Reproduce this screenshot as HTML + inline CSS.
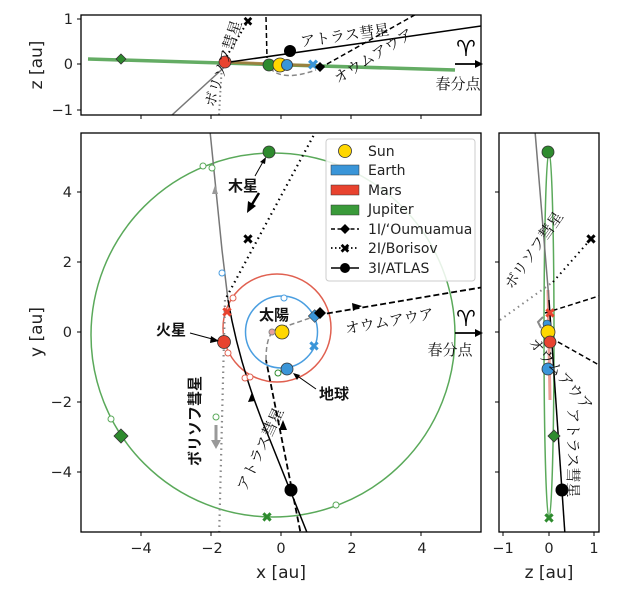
<!DOCTYPE html>
<html><head><meta charset="utf-8"><style>
html,body{margin:0;padding:0;background:#fff;overflow:hidden;width:621px;height:596px;}
svg{display:block;}
.t{font-family:"DejaVu Sans","Liberation Sans",sans-serif;font-size:14.5px;fill:#222;}
.al{font-family:"DejaVu Sans","Liberation Sans",sans-serif;font-size:17px;fill:#222;}
.j{font-family:"Liberation Serif","Noto Serif CJK SC","Noto Sans CJK JP",serif;font-size:15px;fill:#111;}
.jb{font-family:"Liberation Sans","Noto Sans CJK JP",sans-serif;font-size:15px;font-weight:bold;fill:#111;}
.lg{font-family:"DejaVu Sans","Liberation Sans",sans-serif;font-size:14px;fill:#222;}
.ar{font-family:"DejaVu Sans",sans-serif;font-size:22px;fill:#000;}
</style></head><body>
<svg width="621" height="596" viewBox="0 0 621 596" xmlns="http://www.w3.org/2000/svg">
<defs>
<clipPath id="cm"><rect x="81" y="133" width="400" height="399"/></clipPath>
<clipPath id="ct"><rect x="81" y="15" width="400" height="100"/></clipPath>
<clipPath id="cr"><rect x="499" y="133" width="100" height="399"/></clipPath>
</defs>

<!-- ============ TOP PANEL ============ -->
<g clip-path="url(#ct)">
<line x1="88" y1="59" x2="455" y2="70" stroke="#4a9e4a" stroke-width="3.5" opacity="0.85"/>
<line x1="225" y1="62" x2="320" y2="66" stroke="#b07030" stroke-width="3" opacity="0.7"/>
<line x1="172" y1="115" x2="230" y2="62" stroke="#777" stroke-width="1.5"/>
<line x1="230" y1="62" x2="481" y2="26" stroke="#000" stroke-width="1.5"/>
<line x1="222" y1="64" x2="248" y2="21" stroke="#000" stroke-width="2" stroke-dasharray="1.5,3"/>
<line x1="222" y1="64" x2="219" y2="115" stroke="#888" stroke-width="2" stroke-dasharray="1.5,3"/>
<line x1="266" y1="17" x2="267" y2="58" stroke="#000" stroke-width="1.5" stroke-dasharray="5,3"/>
<line x1="320" y1="68" x2="420" y2="12" stroke="#000" stroke-width="1.5" stroke-dasharray="5,3"/>
<path d="M270,68 Q282,82 316,70" fill="none" stroke="#888" stroke-width="1.5" stroke-dasharray="5,3"/>
<circle cx="225" cy="62" r="6" fill="#e8432f" stroke="#333" stroke-width="0.8"/>
<polygon points="121,54 126,59 121,64 116,59" fill="#2e8b2e" stroke="#333" stroke-width="0.8"/>
<circle cx="269" cy="65" r="6" fill="#2e8b2e" stroke="#333" stroke-width="0.8"/>
<circle cx="280" cy="65" r="7" fill="#ffd700" stroke="#333" stroke-width="0.8"/>
<circle cx="287" cy="65" r="5.5" fill="#3a95d8" stroke="#333" stroke-width="0.8"/>
<text x="313" y="70" text-anchor="middle" font-size="15" font-weight="bold" fill="#3a95d8" font-family="DejaVu Sans">✖</text>
<polygon points="320,62 325,67 320,72 315,67" fill="#000"/>
<circle cx="290" cy="51" r="6" fill="#000"/>
<text x="248" y="26" text-anchor="middle" font-size="13" font-weight="bold" fill="#000" font-family="DejaVu Sans">✖</text>
</g>
<rect x="81" y="15" width="400" height="100" fill="none" stroke="#000" stroke-width="1.3"/>
<text class="j" x="300" y="42" transform="rotate(-8 335 36)">アトラス彗星</text>
<text class="j" x="0" y="0" transform="translate(214,108) rotate(-72)">ボリソフ彗星</text>
<text class="j" x="0" y="0" transform="translate(338,84) rotate(-32)">オウムアウア</text>
<text class="ar" x="466" y="56" text-anchor="middle">♈&#xFE0E;</text>
<line x1="455" y1="64" x2="476" y2="64" stroke="#000" stroke-width="1.8"/>
<polygon points="483,64 475,60 475,68" fill="#000"/>
<text class="j" x="458" y="89" text-anchor="middle" font-size="13">春分点</text>
<g class="t" text-anchor="end">
<text x="73" y="24">1</text><text x="73" y="69">0</text><text x="73" y="115">−1</text>
</g>
<g stroke="#000"><line x1="77" y1="19" x2="81" y2="19"/><line x1="77" y1="64" x2="81" y2="64"/><line x1="77" y1="110" x2="81" y2="110"/>
<line x1="141" y1="115" x2="141" y2="119"/><line x1="211" y1="115" x2="211" y2="119"/><line x1="281" y1="115" x2="281" y2="119"/><line x1="351" y1="115" x2="351" y2="119"/><line x1="421" y1="115" x2="421" y2="119"/></g>
<text class="al" transform="translate(42,65) rotate(-90)" text-anchor="middle">z [au]</text>

<!-- ============ MAIN PANEL ============ -->
<g clip-path="url(#cm)">
<circle cx="273" cy="335" r="182" fill="none" stroke="#5aa95a" stroke-width="1.5"/>
<circle cx="277" cy="328" r="54" fill="none" stroke="#e06050" stroke-width="1.5"/>
<circle cx="281.5" cy="332" r="36" fill="none" stroke="#4a9ee0" stroke-width="1.5"/>
<!-- ATLAS -->
<path d="M210,131 L222,250 L228,300" fill="none" stroke="#777" stroke-width="1.5"/>
<path d="M228,300 Q240,370 270,440 L310,540" fill="none" stroke="#000" stroke-width="1.5"/>
<polygon points="215,185 212,194 218,194" fill="#999"/>
<polygon points="252,392 248,402 255,401" fill="#000"/>
<circle cx="291" cy="490" r="6.5" fill="#000"/>
<!-- Oumuamua -->
<path d="M302,540 L266,360" fill="none" stroke="#000" stroke-width="1.8" stroke-dasharray="6,3"/>
<path d="M266,360 Q266,335 275,330 L316,316" fill="none" stroke="#888" stroke-width="1.5" stroke-dasharray="5,3"/>
<line x1="318" y1="315" x2="484" y2="287" stroke="#000" stroke-width="1.8" stroke-dasharray="6,3"/>
<polygon points="362,306 352,303 353,311" fill="#000"/>
<polygon points="283,420 279,430 287,430" fill="#000"/>
<!-- Borisov -->
<line x1="316" y1="131" x2="225" y2="300" stroke="#000" stroke-width="2.2" stroke-dasharray="1.5,4"/>
<line x1="225" y1="300" x2="219" y2="540" stroke="#888" stroke-width="2.2" stroke-dasharray="1.5,4"/>
<line x1="259" y1="193" x2="251" y2="206" stroke="#000" stroke-width="2.5"/>
<polygon points="247,213 248,201 256,206" fill="#000"/>
<line x1="216" y1="425" x2="216" y2="440" stroke="#999" stroke-width="3"/>
<polygon points="211,440 221,440 216,449" fill="#999"/>
<text x="248" y="244" text-anchor="middle" font-size="14" font-weight="bold" fill="#000" font-family="DejaVu Sans">✖</text>
<!-- markers -->
<circle cx="269" cy="152" r="6" fill="#2e8b2e" stroke="#333" stroke-width="0.8"/>
<polygon points="121,429 128,436 121,443 114,436" fill="#2e8b2e" stroke="#333" stroke-width="0.8"/>
<text x="267" y="522" text-anchor="middle" font-size="14" font-weight="bold" fill="#2e8b2e" font-family="DejaVu Sans">✖</text>
<circle cx="203" cy="166" r="3" fill="#fff" stroke="#5aa95a"/><circle cx="212" cy="168" r="3" fill="#fff" stroke="#5aa95a"/>
<circle cx="222" cy="273" r="3" fill="#fff" stroke="#4a9ee0"/>
<circle cx="233" cy="298" r="3" fill="#fff" stroke="#e06050"/>
<circle cx="278" cy="373" r="3" fill="#fff" stroke="#2e8b2e"/>
<circle cx="245" cy="378" r="3" fill="#fff" stroke="#e06050"/><circle cx="250" cy="377" r="3" fill="#fff" stroke="#e06050"/>
<circle cx="111" cy="419" r="3" fill="#fff" stroke="#5aa95a"/>
<circle cx="336" cy="505" r="3" fill="#fff" stroke="#5aa95a"/>
<circle cx="284" cy="298" r="3" fill="#fff" stroke="#4a9ee0"/>
<circle cx="228" cy="353" r="3" fill="#fff" stroke="#e06050"/>
<circle cx="216" cy="417" r="3" fill="#fff" stroke="#5aa95a"/>
<circle cx="282" cy="332" r="7" fill="#ffd700" stroke="#333" stroke-width="0.8"/>
<circle cx="272" cy="332" r="3" fill="#e8a0a0" stroke="#888"/>
<circle cx="287" cy="369" r="6" fill="#3a95d8" stroke="#333" stroke-width="0.8"/>
<circle cx="224" cy="342" r="6.5" fill="#e8432f" stroke="#333" stroke-width="0.8"/>
<rect x="310" y="311" width="9" height="9" fill="#3a95d8" stroke="#333" stroke-width="0.6" transform="rotate(45 314 316)"/>
<polygon points="320,307 326,313 320,319 314,313" fill="#000"/>
<text x="314" y="351" text-anchor="middle" font-size="14" font-weight="bold" fill="#3a95d8" font-family="DejaVu Sans">✖</text>
<text x="227" y="317" text-anchor="middle" font-size="14" font-weight="bold" fill="#e8432f" font-family="DejaVu Sans">✖</text>
</g>
<rect x="81" y="133" width="400" height="399" fill="none" stroke="#000" stroke-width="1.3"/>
<!-- legend -->
<rect x="326" y="139" width="149" height="142" rx="3" fill="#fff" fill-opacity="0.85" stroke="#ccc"/>
<circle cx="345" cy="151" r="6.5" fill="#ffd700" stroke="#333" stroke-width="0.8"/>
<text class="lg" x="368" y="156">Sun</text>
<rect x="331" y="165" width="28" height="10" fill="#3a95d8" stroke="#333" stroke-width="0.5"/>
<text class="lg" x="368" y="175">Earth</text>
<rect x="331" y="185" width="28" height="10" fill="#e8432f" stroke="#333" stroke-width="0.5"/>
<text class="lg" x="368" y="195">Mars</text>
<rect x="331" y="205" width="28" height="10" fill="#3a9a3a" stroke="#333" stroke-width="0.5"/>
<text class="lg" x="368" y="214">Jupiter</text>
<line x1="331" y1="229" x2="359" y2="229" stroke="#000" stroke-width="1.5" stroke-dasharray="4,2.5"/>
<polygon points="345,224 350,229 345,234 340,229" fill="#000"/>
<text class="lg" x="368" y="234" font-size="13.5">1I/‘Oumuamua</text>
<line x1="331" y1="248" x2="359" y2="248" stroke="#000" stroke-width="1.8" stroke-dasharray="1.5,2.5"/>
<text x="345" y="253" text-anchor="middle" font-size="13" font-weight="bold" fill="#000" font-family="DejaVu Sans">✖</text>
<text class="lg" x="368" y="253">2I/Borisov</text>
<line x1="331" y1="268" x2="359" y2="268" stroke="#000" stroke-width="1.5"/>
<circle cx="345" cy="268" r="5" fill="#000"/>
<text class="lg" x="368" y="273">3I/ATLAS</text>
<!-- annotations -->
<text class="jb" x="228" y="191" font-size="16">木星</text>
<line x1="255" y1="176" x2="264" y2="160" stroke="#000"/><polygon points="266,157 260,162 265,164" fill="#000"/>
<text class="jb" x="156" y="335" font-size="16">火星</text>
<line x1="190" y1="333" x2="216" y2="340" stroke="#000"/><polygon points="219,341 211,336 210,343" fill="#000"/>
<text class="jb" x="259" y="320" font-size="16">太陽</text>
<text class="jb" x="319" y="399" font-size="16">地球</text>
<line x1="316" y1="389" x2="296" y2="375" stroke="#000"/><polygon points="293,373 297,380 300,375" fill="#000"/>
<text class="j" x="0" y="0" font-size="16" transform="translate(346,334) rotate(-10)">オウムアウア</text>
<text class="ar" x="466" y="326" text-anchor="middle">♈&#xFE0E;</text>
<line x1="455" y1="333" x2="476" y2="333" stroke="#000" stroke-width="1.8"/>
<polygon points="483,333 475,329 475,337" fill="#000"/>
<text class="j" x="450" y="355" text-anchor="middle" font-size="13">春分点</text>
<text class="jb" x="0" y="0" font-size="16" transform="translate(200,466) rotate(-90)">ボリソフ彗星</text>
<text class="j" x="0" y="0" font-size="16" transform="translate(246,492) rotate(-65)">アトラス彗星</text>
<!-- ticks -->
<g class="t" text-anchor="end">
<text x="72" y="197">4</text><text x="72" y="267">2</text><text x="72" y="337">0</text><text x="72" y="407">−2</text><text x="72" y="477">−4</text>
</g>
<g class="t" text-anchor="middle">
<text x="141" y="553">−4</text><text x="212" y="553">−2</text><text x="281" y="553">0</text><text x="352" y="553">2</text><text x="422" y="553">4</text>
</g>
<g stroke="#000">
<line x1="77" y1="192" x2="81" y2="192"/><line x1="77" y1="262" x2="81" y2="262"/><line x1="77" y1="332" x2="81" y2="332"/><line x1="77" y1="402" x2="81" y2="402"/><line x1="77" y1="472" x2="81" y2="472"/>
<line x1="141" y1="532" x2="141" y2="536"/><line x1="211" y1="532" x2="211" y2="536"/><line x1="281" y1="532" x2="281" y2="536"/><line x1="351" y1="532" x2="351" y2="536"/><line x1="421" y1="532" x2="421" y2="536"/>
</g>
<text class="al" x="281" y="578" text-anchor="middle">x [au]</text>
<text class="al" transform="translate(42,332) rotate(-90)" text-anchor="middle">y [au]</text>

<!-- ============ RIGHT PANEL ============ -->
<g clip-path="url(#cr)">
<ellipse cx="549" cy="335" rx="5" ry="183" fill="none" stroke="#5aa95a" stroke-width="1.5"/>
<line x1="548" y1="290" x2="550" y2="400" stroke="#e06050" stroke-width="3" opacity="0.6"/>
<line x1="535" y1="131" x2="549" y2="300" stroke="#777" stroke-width="1.5"/>
<line x1="549" y1="300" x2="565" y2="535" stroke="#000" stroke-width="1.5"/>
<line x1="500" y1="320" x2="553" y2="282" stroke="#888" stroke-width="2" stroke-dasharray="1.5,4"/>
<line x1="553" y1="282" x2="590" y2="240" stroke="#000" stroke-width="2" stroke-dasharray="1.5,4"/>
<line x1="545" y1="313" x2="599" y2="296" stroke="#000" stroke-width="1.5" stroke-dasharray="5,3"/>
<line x1="551" y1="338" x2="599" y2="365" stroke="#000" stroke-width="1.5" stroke-dasharray="5,3"/>
<path d="M543,317 L538,322 L541,328" fill="none" stroke="#888" stroke-width="2"/>
<circle cx="548" cy="152" r="6" fill="#2e8b2e" stroke="#333" stroke-width="0.8"/>
<text x="591" y="244" text-anchor="middle" font-size="14" font-weight="bold" fill="#000" font-family="DejaVu Sans">✖</text>
<text x="550" y="318" text-anchor="middle" font-size="14" font-weight="bold" fill="#e8432f" font-family="DejaVu Sans">✖</text>
<circle cx="547" cy="324" r="4" fill="#3a95d8" stroke="#333" stroke-width="0.6"/>
<circle cx="548" cy="332" r="7" fill="#ffd700" stroke="#333" stroke-width="0.8"/>
<circle cx="550" cy="342" r="6" fill="#e8432f" stroke="#333" stroke-width="0.8"/>
<circle cx="548" cy="369" r="6" fill="#3a95d8" stroke="#333" stroke-width="0.8"/>
<polygon points="554,430 560,436 554,442 548,436" fill="#2e8b2e" stroke="#333" stroke-width="0.8"/>
<circle cx="562" cy="490" r="6.5" fill="#000"/>
<text x="549" y="523" text-anchor="middle" font-size="14" font-weight="bold" fill="#2e8b2e" font-family="DejaVu Sans">✖</text>
</g>
<rect x="499" y="133" width="100" height="399" fill="none" stroke="#000" stroke-width="1.3"/>
<text class="j" x="0" y="0" transform="translate(512,290) rotate(-55)">ボリソフ彗星</text>
<text class="j" x="0" y="0" transform="translate(528,343) rotate(50)">オウムアウア</text>
<text class="j" x="0" y="0" transform="translate(568,408) rotate(90)">アトラス彗星</text>
<g stroke="#000">
<line x1="495" y1="192" x2="499" y2="192"/><line x1="495" y1="262" x2="499" y2="262"/><line x1="495" y1="332" x2="499" y2="332"/><line x1="495" y1="402" x2="499" y2="402"/><line x1="495" y1="472" x2="499" y2="472"/>
<line x1="503" y1="532" x2="503" y2="536"/><line x1="549" y1="532" x2="549" y2="536"/><line x1="594" y1="532" x2="594" y2="536"/>
</g>
<g class="t" text-anchor="middle">
<text x="503" y="553">−1</text><text x="549" y="553">0</text><text x="594" y="553">1</text>
</g>
<text class="al" x="549" y="578" text-anchor="middle">z [au]</text>
</svg>
</body></html>
